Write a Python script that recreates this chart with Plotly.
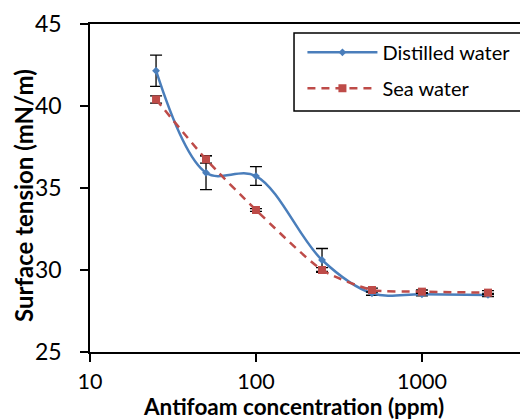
import plotly.graph_objects as go

conc = [25, 50, 100, 250, 500, 1000, 2500]
distilled = [42.15, 35.93, 35.73, 30.61, 28.58, 28.52, 28.48]
distilled_err = [0.95, 1.03, 0.57, 0.70, 0.12, 0.10, 0.10]
sea = [40.4, 36.75, 33.66, 30.0, 28.78, 28.68, 28.62]
sea_err = [0.22, 0.23, 0.08, 0.15, 0.12, 0.10, 0.12]

x_ticks = [10, 100, 1000, 10000]
x_ticktext = ["10", "100", "1000", "10000"]
y_ticks = [25, 30, 35, 40, 45]

FONT = "Lato"

fig = go.Figure()
fig.add_trace(go.Scatter(
    x=conc, y=distilled, name="Distilled water", mode="lines+markers",
    line=dict(color="#4A7EBB", width=2.5, shape="spline", smoothing=1),
    marker=dict(symbol="diamond", size=6, color="#4A7EBB"),
    error_y=dict(type="data", array=distilled_err, color="black", thickness=1.3, width=6),
    legendgroup="a",
))
fig.add_trace(go.Scatter(
    x=conc, y=sea, name="Sea water", mode="lines+markers",
    line=dict(color="#BE4B48", width=2.5, dash="8px,6px", shape="spline", smoothing=0.6),
    marker=dict(symbol="square", size=8, color="#BE4B48"),
    error_y=dict(type="data", array=sea_err, color="black", thickness=1.3, width=6),
    legendgroup="b",
))

# legend frame (white box with black border)
fig.add_shape(type="rect", xref="paper", yref="paper",
              x0=0.4658, x1=0.984, y0=0.7348, y1=0.9726,
              line=dict(color="black", width=1.5), fillcolor="white", layer="above")

# axis titles
fig.add_annotation(text="<b>Surface tension (mN/m)</b>", xref="paper", yref="paper",
                   x=-0.1507, y=0.4787, xanchor="center", yanchor="middle",
                   textangle=-90, showarrow=False,
                   font=dict(family=FONT, size=24, color="black"))
fig.add_annotation(text="<b>Antifoam concentration (ppm)</b>", xref="paper", yref="paper",
                   x=0.4635, y=-0.1210, xanchor="center", yanchor="top",
                   showarrow=False, borderpad=0,
                   font=dict(family=FONT, size=22.5, color="black"))

fig.update_layout(
    width=520, height=411,
    margin=dict(l=82, r=0, t=16, b=67, autoexpand=False),
    paper_bgcolor="white", plot_bgcolor="white",
    font=dict(family=FONT, size=20, color="black"),
    showlegend=True,
    legend=dict(
        x=0.485, y=0.973, xanchor="left", yanchor="top",
        borderwidth=0, bgcolor="rgba(0,0,0,0)",
        font=dict(family=FONT, size=20, color="black"),
        itemwidth=70, traceorder="grouped", tracegroupgap=7,
    ),
    xaxis=dict(
        type="log", range=[1, 3.639], automargin=False,
        tickvals=x_ticks, ticktext=x_ticktext,
        ticks="outside", ticklen=8, tickwidth=1.5, tickcolor="black",
        showline=True, linecolor="black", linewidth=1.5, mirror=True,
        showgrid=False, zeroline=False,
        tickfont=dict(family=FONT, size=21.5), ticklabelstandoff=1,
    ),
    yaxis=dict(
        range=[25, 45], tickvals=y_ticks, automargin=False,
        ticks="outside", ticklen=8, tickwidth=1.5, tickcolor="black",
        showline=True, linecolor="black", linewidth=1.5, mirror=False,
        showgrid=False, zeroline=False,
        tickfont=dict(family=FONT, size=23), ticklabelstandoff=14,
    ),
)

fig.write_html("out.html")
